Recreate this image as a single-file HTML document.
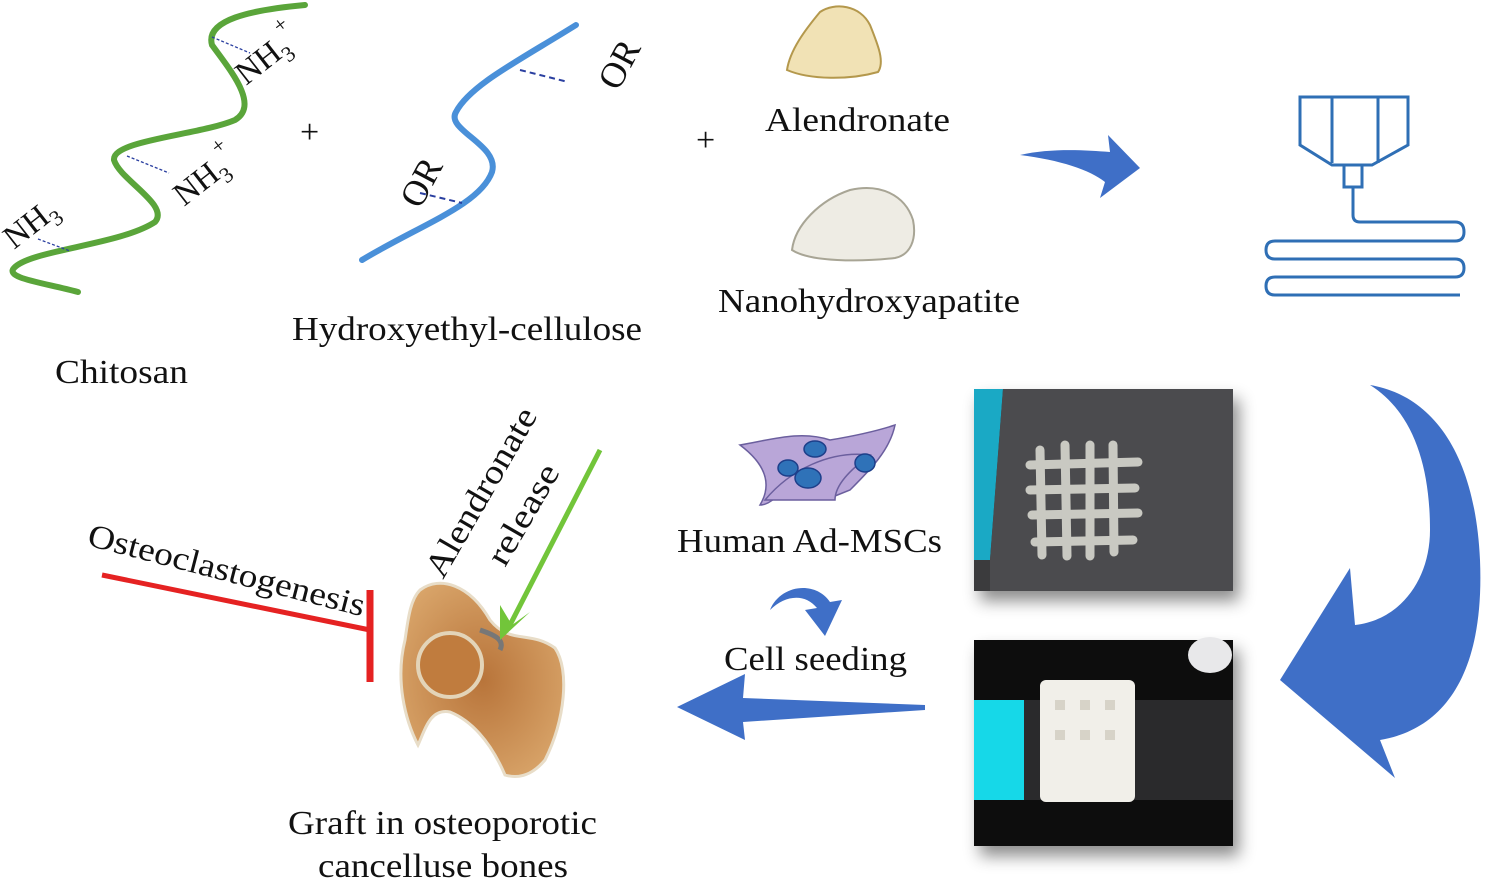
<!DOCTYPE html>
<html><head><meta charset="utf-8"><style>
html,body{margin:0;padding:0;background:#fff;}
svg{display:block;}
text{font-family:"Liberation Serif",serif;fill:#111;}
</style></head><body>
<svg width="1507" height="886" viewBox="0 0 1507 886" xmlns="http://www.w3.org/2000/svg">
<defs>
<filter id="sh" x="-10%" y="-10%" width="130%" height="140%"><feDropShadow dx="6" dy="10" stdDeviation="8" flood-color="#000" flood-opacity="0.45"/></filter>
<radialGradient id="bone" cx="0.5" cy="0.5" r="0.6"><stop offset="0" stop-color="#b8743a"/><stop offset="1" stop-color="#d9a56a"/></radialGradient>
</defs>

<!-- Chitosan -->
<path d="M78,292 C40,282 5,278 14,268 C30,250 120,245 155,222 C170,205 120,180 114,160 C112,140 200,135 235,120 C260,105 230,70 212,45 C205,20 250,10 305,5" fill="none" stroke="#5aa53a" stroke-width="6" stroke-linecap="round"/>
<g stroke="#2a3fa0" stroke-width="1.3" stroke-dasharray="3,2" fill="none">
<line x1="38" y1="239" x2="70" y2="251"/><line x1="127" y1="156" x2="169" y2="173"/><line x1="212" y1="37" x2="250" y2="53"/>
</g>
<text font-size="33" transform="translate(14,250) rotate(-38)">NH<tspan font-size="22" dy="8">3</tspan></text>
<text font-size="33" transform="translate(184,207) rotate(-38)">NH<tspan font-size="22" dy="8">3</tspan><tspan font-size="22" dy="-28">+</tspan></text>
<text font-size="33" transform="translate(246,86) rotate(-38)">NH<tspan font-size="22" dy="8">3</tspan><tspan font-size="22" dy="-28">+</tspan></text>
<text x="300" y="143" font-size="34">+</text>

<!-- HEC -->
<path d="M362,260 C420,225 480,205 492,172 C500,145 445,130 456,112 C470,85 520,60 576,25" fill="none" stroke="#4a90d9" stroke-width="6" stroke-linecap="round"/>
<g stroke="#2a3fa0" stroke-width="2" stroke-dasharray="6,4"><line x1="520" y1="70" x2="568" y2="82"/><line x1="420" y1="193" x2="462" y2="203"/></g>
<text font-size="36" transform="translate(618,92) rotate(-62)">OR</text>
<text font-size="36" transform="translate(420,210) rotate(-62)">OR</text>
<text x="292" y="340" font-size="34" textLength="350" lengthAdjust="spacingAndGlyphs">Hydroxyethyl-cellulose</text>
<text x="55" y="383" font-size="34" textLength="133" lengthAdjust="spacingAndGlyphs">Chitosan</text>
<text x="696" y="151" font-size="34">+</text>

<!-- powders -->
<path d="M787,70 C790,50 805,30 820,12 C835,2 860,5 870,25 C878,45 885,62 878,72 C850,80 810,80 787,70 Z" fill="#f1e2b5" stroke="#b4984c" stroke-width="2"/>
<path d="M792,250 C795,225 820,200 850,190 C880,183 905,195 913,220 C917,240 910,255 895,258 C860,262 810,262 792,250 Z" fill="#eeece4" stroke="#a8a595" stroke-width="2"/>
<text x="765" y="131" font-size="34" textLength="185" lengthAdjust="spacingAndGlyphs">Alendronate</text>
<text x="718" y="312" font-size="34" textLength="302" lengthAdjust="spacingAndGlyphs">Nanohydroxyapatite</text>

<!-- top arrow -->
<path d="M1020,155 C1060,160 1090,170 1105,182 L1100,198 L1140,168 L1108,135 L1110,152 C1085,150 1050,148 1020,155 Z" fill="#3f6fc7"/>

<!-- printer -->
<g fill="none" stroke="#2f6fb5" stroke-width="3">
<path d="M1300,97 L1408,97 L1408,145 L1372,165 L1332,165 L1300,145 Z"/>
<line x1="1332" y1="97" x2="1332" y2="163"/><line x1="1378" y1="97" x2="1378" y2="163"/>
<rect x="1344" y="165" width="18" height="22"/>
<path d="M1353,187 L1353,215 Q1353,222 1360,222 L1455,222 Q1464,222 1464,232 Q1464,241 1455,241 L1275,241 Q1266,241 1266,250 Q1266,259 1275,259 L1455,259 Q1464,259 1464,268 Q1464,277 1455,277 L1275,277 Q1266,277 1266,286 Q1266,295 1275,295 L1460,295"/>
</g>

<!-- photos -->
<g filter="url(#sh)">
<rect x="974" y="389" width="259" height="202" fill="#3a3a3c"/>
<rect x="974" y="640" width="259" height="206" fill="#0c0c0e"/>
</g>
<path d="M974,389 L1003,389 L990,560 L974,560 Z" fill="#1aa9c5"/>
<path d="M1003,389 L1233,389 L1233,591 L990,591 L990,560 Z" fill="#4b4b4e"/>
<g fill="none" stroke="#c9c9c2" stroke-width="9" stroke-linecap="round">
<line x1="1030" y1="465" x2="1138" y2="462"/><line x1="1030" y1="490" x2="1135" y2="488"/><line x1="1032" y1="515" x2="1138" y2="513"/><line x1="1035" y1="542" x2="1133" y2="540"/>
<line x1="1040" y1="450" x2="1042" y2="555"/><line x1="1065" y1="445" x2="1067" y2="556"/><line x1="1090" y1="445" x2="1090" y2="556"/><line x1="1113" y1="445" x2="1114" y2="552"/>
</g>
<rect x="974" y="700" width="50" height="100" fill="#16d8e8"/>
<rect x="1024" y="700" width="209" height="100" fill="#2a2a2c"/>
<rect x="1040" y="680" width="95" height="122" fill="#f1efe9" rx="6"/>
<g fill="#d7d3c8"><rect x="1055" y="700" width="10" height="10"/><rect x="1080" y="700" width="10" height="10"/><rect x="1105" y="700" width="10" height="10"/><rect x="1055" y="730" width="10" height="10"/><rect x="1080" y="730" width="10" height="10"/><rect x="1105" y="730" width="10" height="10"/></g>
<ellipse cx="1210" cy="655" rx="22" ry="18" fill="#e8e8ea"/>

<!-- big curved arrow -->
<path d="M1370,385 C1430,395 1475,450 1480,560 C1485,680 1440,730 1380,740 L1395,778 L1280,680 L1350,568 L1355,625 C1400,620 1430,580 1430,530 C1430,460 1410,410 1370,385 Z" fill="#3f6fc7"/>

<!-- cells -->
<g stroke="#6b5f9e" stroke-width="1.5" fill="#b9a6d8">
<path d="M740,445 C770,440 800,430 830,440 C860,435 880,430 895,425 C890,450 870,470 850,490 L830,498 C820,480 800,470 790,480 C780,495 770,505 760,505 C775,480 760,460 740,445 Z"/>
<path d="M765,500 C790,470 830,450 870,455 C850,470 835,485 835,500 Z"/>
</g>
<g fill="#2f72b8" stroke="#1d3f8a" stroke-width="1.5"><ellipse cx="815" cy="449" rx="11" ry="8"/><ellipse cx="788" cy="468" rx="10" ry="8"/><ellipse cx="808" cy="478" rx="13" ry="10"/><ellipse cx="865" cy="463" rx="10" ry="9"/></g>
<text x="677" y="552" font-size="34" textLength="265" lengthAdjust="spacingAndGlyphs">Human Ad-MSCs</text>
<path d="M770,610 C780,585 815,580 830,602 L842,600 L825,636 L805,610 L817,608 C805,593 785,595 770,610 Z" fill="#3f6fc7"/>
<text x="724" y="670" font-size="34" textLength="183" lengthAdjust="spacingAndGlyphs">Cell seeding</text>
<path d="M677,707 L745,674 L743,698 L925,705 L925,710 L743,722 L745,740 Z" fill="#3f6fc7"/>

<!-- bone -->
<path d="M420,590 C440,575 470,585 490,620 C510,645 530,630 555,648 C570,670 565,720 545,760 C530,778 515,778 505,775 C490,740 470,720 450,712 C430,708 425,730 418,745 C405,720 395,680 405,640 C408,620 410,600 420,590 Z" fill="url(#bone)" stroke="#e8ddc8" stroke-width="3"/>
<circle cx="450" cy="665" r="32" fill="#c07c3e" stroke="#e3d4b8" stroke-width="4"/>
<path d="M480,630 C495,635 505,640 500,650" fill="none" stroke="#777" stroke-width="5"/>

<!-- alendronate release -->
<line x1="600" y1="450" x2="510" y2="625" stroke="#72c53a" stroke-width="5"/>
<path d="M500,640 L500,605 L512,625 L530,612 Z" fill="#72c53a"/>
<text font-size="34" transform="translate(443,580) rotate(-60)" textLength="190" lengthAdjust="spacingAndGlyphs">Alendronate</text>
<text font-size="34" transform="translate(505,568) rotate(-60)" textLength="111" lengthAdjust="spacingAndGlyphs">release</text>

<!-- osteoclastogenesis -->
<text font-size="33" transform="translate(86,545) rotate(14.5)" textLength="285" lengthAdjust="spacingAndGlyphs">Osteoclastogenesis</text>
<line x1="102" y1="575" x2="370" y2="630" stroke="#e52222" stroke-width="5"/>
<line x1="370" y1="590" x2="370" y2="682" stroke="#e52222" stroke-width="7"/>

<text x="288" y="834" font-size="34" textLength="309" lengthAdjust="spacingAndGlyphs">Graft in osteoporotic</text>
<text x="318" y="877" font-size="34" textLength="250" lengthAdjust="spacingAndGlyphs">cancelluse bones</text>
</svg>
</body></html>
